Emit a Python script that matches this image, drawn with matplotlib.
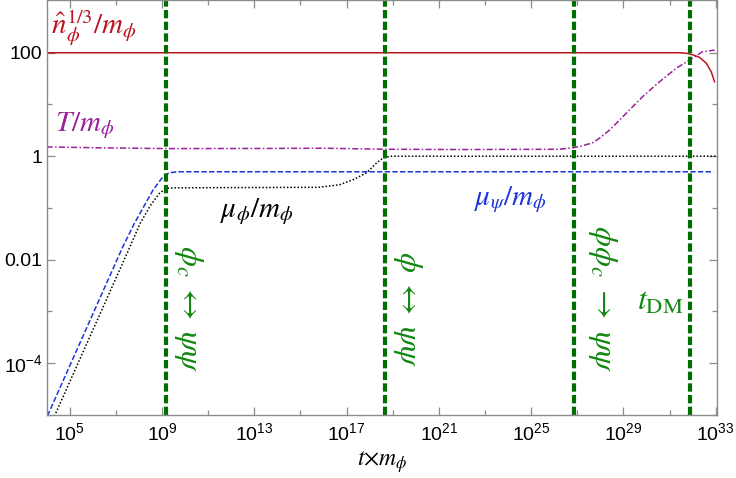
import numpy as np
import matplotlib
matplotlib.use('Agg')
import matplotlib.pyplot as plt
from matplotlib.ticker import FixedLocator, FixedFormatter

plt.rcParams['font.family'] = ['Liberation Sans', 'DejaVu Sans']
plt.rcParams['mathtext.fontset'] = 'stix'

# valores (log10 de t*m y log10 de cada cantidad)
red_lx = [4.0, 31.4, 31.73, 32.01, 32.30, 32.59, 32.81, 32.95]
red_ly = [2.0, 2.0, 1.99, 1.96, 1.91, 1.80, 1.63, 1.44]

purple_lx = [4.0, 6.0, 9.2, 13.0, 16.0, 18.7, 22.0, 26.2, 26.84, 27.2, 27.67,
             28.0, 28.41, 29.13, 29.84, 30.57, 31.29, 31.87, 32.43, 32.95]
purple_ly = [0.18, 0.165, 0.148, 0.15, 0.155, 0.135, 0.13, 0.135, 0.165, 0.2, 0.26,
             0.36, 0.51, 0.835, 1.154, 1.442, 1.70, 1.86, 2.02, 2.05]

blue_lx = [3.9, 7.3, 7.8, 8.2, 8.6, 9.0, 9.3, 9.7, 32.9]
blue_ly = [-5.15, -1.75, -1.3, -0.98, -0.66, -0.42, -0.32, -0.30, -0.30]

black_lx = [3.9, 7.5, 8.06, 8.5, 8.9, 9.2, 9.6, 15.8, 16.7, 17.3, 17.87, 18.3,
            18.6, 18.9, 33.0]
black_ly = [-5.46, -1.86, -1.29, -0.95, -0.71, -0.62, -0.61, -0.60, -0.55, -0.45,
            -0.32, -0.13, -0.03, 0.0, 0.0]

# tiempos de las transiciones (lineas verdes)
vlines_lx = [9.17, 18.68, 26.84, 31.87]

xtick_exp = [5, 9, 13, 17, 21, 25, 29, 33]
xminor_exp = [3, 7, 11, 15, 19, 23, 27, 31]
ytick_vals = [100, 1, 0.01, 1e-4]
ytick_labels = ['100', '1', '0.01', r'$\mathregular{10^{-4}}$']
yminor_vals = [10, 0.1, 1e-3, 1e-5]

red = '#bb1420'
purple = '#9a1f9a'
blue = '#1c35d8'
green_line = '#006e00'
green_text = '#118811'
frame = '#8c8c8c'

fig = plt.figure(figsize=(7.36, 4.78), dpi=100)
ax = fig.add_axes([0.0634, 0.1318, 0.9112, 0.8672])

tl = lambda a: 10.0 ** np.array(a)

ax.plot(tl(red_lx), tl(red_ly), color=red, lw=1.1)
ax.plot(tl(purple_lx), tl(purple_ly), color=purple, lw=1.1, dashes=(4, 1.5, 1, 1.5))
ax.plot(tl(blue_lx), tl(blue_ly), color=blue, lw=1.1, dashes=(3.5, 1.5))
ax.plot(tl(black_lx), tl(black_ly), color='black', lw=1.1, dashes=(1, 1.3))

for v in vlines_lx:
    ax.axvline(10.0 ** v, color=green_line, lw=3.0, dashes=(2.0, 0.8))

ax.set_xscale('log')
ax.set_yscale('log')
ax.set_xlim(1e4, 10 ** 33.07)
ax.set_ylim(1e-5, 10 ** 3.01)

ax.xaxis.set_major_locator(FixedLocator([10.0 ** e for e in xtick_exp]))
ax.xaxis.set_major_formatter(FixedFormatter([r'$\mathregular{10^{%d}}$' % e for e in xtick_exp]))
ax.xaxis.set_minor_locator(FixedLocator([10.0 ** e for e in xminor_exp]))
ax.yaxis.set_major_locator(FixedLocator(ytick_vals))
ax.yaxis.set_major_formatter(FixedFormatter(ytick_labels))
ax.yaxis.set_minor_locator(FixedLocator(yminor_vals))
ax.yaxis.set_minor_formatter(FixedFormatter([''] * len(yminor_vals)))
ax.xaxis.set_minor_formatter(FixedFormatter([''] * len(xminor_exp)))

ax.tick_params(which='both', direction='in', top=True, right=True, color=frame,
               labelsize=14, width=0.9)
ax.tick_params(which='major', length=6)
ax.tick_params(which='minor', length=3.5)
ax.tick_params(axis='x', pad=5)
ax.tick_params(axis='y', pad=3)
for s in ax.spines.values():
    s.set_color(frame)
    s.set_linewidth(1.0)

ax.set_xlabel(r'$t{\times}m_\phi$', fontsize=17, labelpad=4)

# etiquetas de las curvas
ax.text(10 ** 4.2, 10 ** 2.5, r'$\hat{n}_\phi^{1/3}/m_\phi$', color=red, fontsize=21,
        ha='left', va='center')
ax.text(10 ** 4.35, 10 ** 0.6, r'$T/m_\phi$', color=purple, fontsize=21,
        ha='left', va='center')
ax.text(10 ** 13.1, 10 ** -1.07, r'$\mu_\phi/m_\phi$', color='black', fontsize=21,
        ha='center', va='center')
ax.text(10 ** 24.1, 10 ** -0.83, r'$\mu_\psi/m_\phi$', color=blue, fontsize=21,
        ha='center', va='center')
ax.text(10 ** 30.6, 10 ** -2.81, r'$t_{\mathrm{DM}}$', color=green_text, fontsize=23,
        ha='center', va='center')

# procesos en cada transicion
ax.text(10 ** 10.15, 10 ** -2.95, r'$\phi_c\ \leftrightarrow\ \psi\psi$', color=green_text,
        fontsize=23, rotation=-90, ha='center', va='center')
ax.text(10 ** 19.65, 10 ** -2.95, r'$\phi\ \leftrightarrow\ \psi\psi$', color=green_text,
        fontsize=23, rotation=-90, ha='center', va='center')
ax.text(10 ** 28.1, 10 ** -2.75, r'$\phi\phi_c\ \rightarrow\ \psi\psi$', color=green_text,
        fontsize=23, rotation=-90, ha='center', va='center')

fig.savefig('out.png', dpi=100)
